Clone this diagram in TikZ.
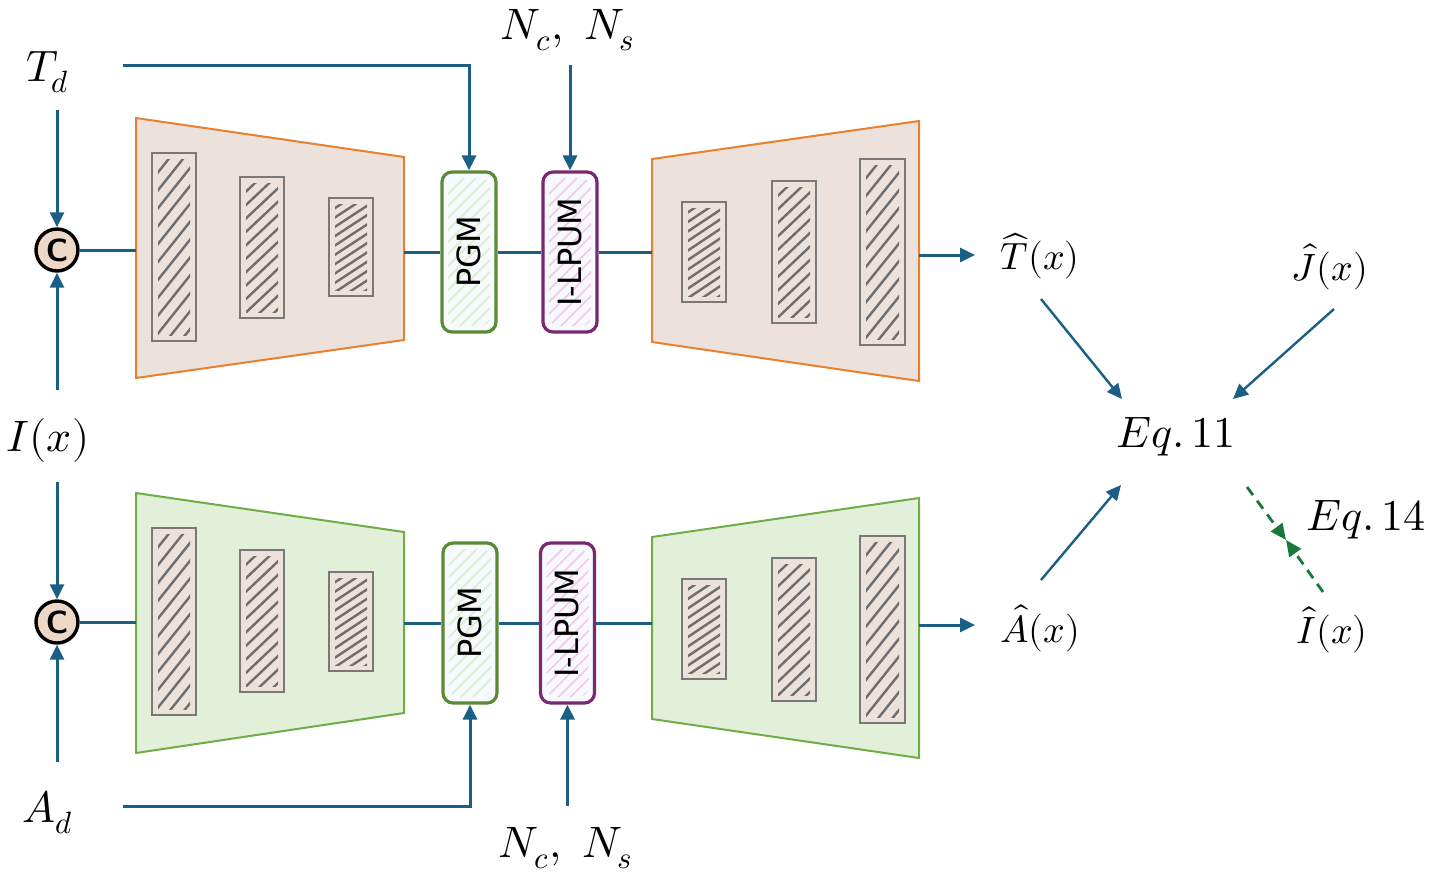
\documentclass[tikz,border=0pt]{standalone}
\usepackage{fontspec}
\usepackage{unicode-math}
\setmathfont{Latin Modern Math}
\newfontfamily\boxfont{DejaVu Sans}
\usetikzlibrary{arrows.meta}
\definecolor{lineblue}{RGB}{27,96,132}
\definecolor{encorange}{RGB}{232,128,47}
\definecolor{encfill}{RGB}{236,226,219}
\definecolor{grfill}{RGB}{226,239,217}
\definecolor{grstroke}{RGB}{112,173,71}
\definecolor{rectgray}{RGB}{120,120,120}
\definecolor{hatchgray}{RGB}{110,110,110}
\definecolor{rectfill}{RGB}{237,226,218}
\definecolor{catfill}{RGB}{237,216,200}
\definecolor{pgmgreen}{RGB}{90,138,52}
\definecolor{pgmhatch}{RGB}{212,240,204}
\definecolor{ilppurple}{RGB}{122,40,112}
\definecolor{ilphatch}{RGB}{244,198,234}
\definecolor{boxfill}{RGB}{247,249,255}
\definecolor{dashgreen}{RGB}{23,120,58}
\newcommand\hatchrect[4]{%
  \draw[rectbox] (#1,#2) rectangle (#3,#4);
  \pgfmathsetmacro\hatW{#3-#1}
  \pgfmathsetmacro\hatH{#4-#2}
  \pgfmathsetmacro\hatS{\hatH/150}
  \pgfmathsetmacro\hatG{\hatH/10.5}
  \pgfmathsetmacro\hatN{int((\hatH+\hatW*\hatS)/\hatG)+1}
  \begin{scope}
    \clip (#1+6,#2+6) rectangle (#3-6,#4-6);
    \foreach \i in {0,...,\hatN}{\draw[hatchln] (#1,{#2+(\i+0.5)*\hatG}) -- ++(\hatW,{-\hatW*\hatS});}
  \end{scope}}
\tikzset{
  conn/.style={draw=lineblue, line width=1.5pt},
  arr/.style={conn, -{Triangle[length=7.5pt,width=7pt]}},
  thinarr/.style={draw=lineblue, line width=1.2pt, -{Triangle[length=7.5pt,width=7pt]}},
  garr/.style={draw=dashgreen, line width=1.4pt, dash pattern=on 5pt off 3.5pt, -{Triangle[length=8pt,width=7pt]}},
  enctop/.style={draw=encorange, line width=1pt, fill=encfill},
  encbot/.style={draw=grstroke, line width=1pt, fill=grfill},
  rectbox/.style={draw=rectgray, line width=1.1pt, fill=rectfill},
  hatchln/.style={draw=hatchgray, line width=1.2pt, line cap=round},
  cat/.style={circle, draw=black, line width=1.7pt, fill=catfill, minimum size=21pt, inner sep=0pt, font=\sffamily\bfseries\fontsize{16}{16}\selectfont},
  modbox/.style={line width=1.6pt, rounded corners=5pt, fill=boxfill, minimum width=27pt, minimum height=80pt, inner sep=0pt},
  pgmbox/.style={modbox, draw=pgmgreen, path picture={
      \clip ([shift={(3pt,3pt)}]path picture bounding box.south west) rectangle ([shift={(-3pt,-3pt)}]path picture bounding box.north east);
      \foreach \k in {0,...,20} \draw[draw=pgmhatch, line width=0.8pt] ([yshift=\k*6pt-30pt]path picture bounding box.south west) -- ++(40pt,40pt);}},
  ilpbox/.style={modbox, draw=ilppurple, path picture={
      \clip ([shift={(3pt,3pt)}]path picture bounding box.south west) rectangle ([shift={(-3pt,-3pt)}]path picture bounding box.north east);
      \foreach \k in {0,...,20} \draw[draw=ilphatch, line width=0.8pt] ([yshift=\k*6pt-30pt]path picture bounding box.south west) -- ++(40pt,40pt);}},
  lbl/.style={inner sep=0pt, font=\fontsize{22}{26}\selectfont},
  hlbl/.style={inner sep=0pt, font=\fontsize{19}{23}\selectfont}
}
\newcommand\boxtxt[1]{\rotatebox{90}{\boxfont\fontsize{16}{16}\selectfont #1}}
\begin{document}
\begin{tikzpicture}[x=0.5pt,y=-0.5pt]
\useasboundingbox (0,0) rectangle (1434,880);

% ---------- top branch ----------
\draw[enctop] (136,118) -- (404,157) -- (404,340) -- (136,378) -- cycle;
\draw[enctop] (652,159) -- (919,121) -- (919,381) -- (652,342) -- cycle;
\hatchrect{152}{153}{196}{341}
\hatchrect{240}{177}{284}{318}
\hatchrect{329}{198}{373}{296}
\hatchrect{682}{202}{726}{302}
\hatchrect{772}{181}{816}{323}
\hatchrect{860}{159}{905}{345}

% ---------- bottom branch ----------
\draw[encbot] (136,493) -- (404,532) -- (404,713) -- (136,753) -- cycle;
\draw[encbot] (652,537) -- (919,498) -- (919,758) -- (652,719) -- cycle;
\hatchrect{152}{528}{196}{715}
\hatchrect{240}{550}{284}{692}
\hatchrect{329}{572}{373}{671}
\hatchrect{682}{579}{726}{679}
\hatchrect{772}{558}{816}{701}
\hatchrect{860}{536}{905}{723}

% ---------- nodes ----------
\node[cat] (c1) at (57,250) {C};
\node[cat] (c2) at (57,622) {C};
\node[pgmbox] (pgm1) at (469,252) {\boxtxt{PGM}};
\node[ilpbox] (ilp1) at (570,252) {\boxtxt{I-LPUM}};
\node[pgmbox] (pgm2) at (470,623) {\boxtxt{PGM}};
\node[ilpbox] (ilp2) at (567.5,623) {\boxtxt{I-LPUM}};

\node[lbl] (Td) at (48,72) {$T_d$};
\node[lbl] (NcT) at (568,30) {$N_c,\ N_s$};
\node[lbl] (Ix) at (48,440) {$I(x)$};
\node[lbl] (Ad) at (48,812) {$A_d$};
\node[lbl] (NcB) at (566,848) {$N_c,\ N_s$};
\node[hlbl] (That) at (1040,256) {$\widehat{T}(x)$};
\node[hlbl] (Jhat) at (1330,267) {$\hat{J}(x)$};
\node[hlbl] (Ahat) at (1040,628) {$\hat{A}(x)$};
\node[hlbl] (Ihat) at (1332,630) {$\hat{I}(x)$};
\node[lbl] (Eq11) at (1176,437) {$Eq.\,11$};
\node[lbl] (Eq14) at (1366,520) {$Eq.\,14$};

% ---------- coordinates ----------
\coordinate (tdS) at (57,110);
\coordinate (tdE) at (123,65);
\coordinate (ncTs) at (570,65);
\coordinate (ixN) at (57,390);
\coordinate (ixS) at (57,482);
\coordinate (adN) at (57,762);
\coordinate (adE) at (123,806);
\coordinate (ncBn) at (567.5,806);
\coordinate (e1in) at (136,250);
\coordinate (e1out) at (404,252);
\coordinate (d1in) at (652,252);
\coordinate (d1out) at (919,255);
\coordinate (tOut) at (975,255);
\coordinate (e2in) at (136,622);
\coordinate (e2out) at (404,623);
\coordinate (d2in) at (652,623);
\coordinate (d2out) at (919,625);
\coordinate (aOut) at (975,625);
\coordinate (tS) at (1041,299);
\coordinate (tE) at (1122,399);
\coordinate (jS) at (1334,309);
\coordinate (jE) at (1233,399);
\coordinate (aS) at (1041,580);
\coordinate (aE) at (1121,485);
\coordinate (gS1) at (1247,487);
\coordinate (gS2) at (1323,592);
\coordinate (gM) at (1286,540);

% ---------- connectors ----------
\draw[arr] (tdS) -- (c1.north);
\draw[arr] (ixN) -- (c1.south);
\draw[arr] (ixS) -- (c2.north);
\draw[arr] (adN) -- (c2.south);
\draw[arr] (tdE) -| (pgm1.north);
\draw[arr] (ncTs) -- (ilp1.north);
\draw[arr] (adE) -| (pgm2.south);
\draw[arr] (ncBn) -- (ilp2.south);

\draw[conn] (c1.east) -- (e1in);
\draw[conn] (e1out) -- (pgm1.west);
\draw[conn] (pgm1.east) -- (ilp1.west);
\draw[conn] (ilp1.east) -- (d1in);
\draw[arr] (d1out) -- (tOut);

\draw[conn] (c2.east) -- (e2in);
\draw[conn] (e2out) -- (pgm2.west);
\draw[conn] (pgm2.east) -- (ilp2.west);
\draw[conn] (ilp2.east) -- (d2in);
\draw[arr] (d2out) -- (aOut);

\draw[thinarr] (tS) -- (tE);
\draw[thinarr] (jS) -- (jE);
\draw[thinarr] (aS) -- (aE);
\draw[garr] (gS1) -- (gM);
\draw[garr] (gS2) -- (gM);
\end{tikzpicture}
\end{document}
